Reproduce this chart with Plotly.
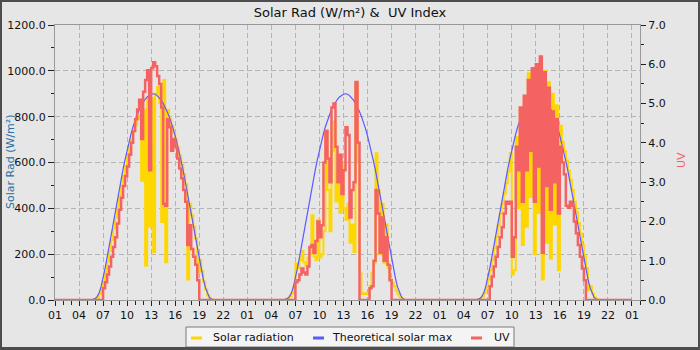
import pandas as pd
import plotly.graph_objects as go

# ---------------- data ----------------
DAYS = ["2024-06-10", "2024-06-11", "2024-06-12"]
START = "2024-06-10 01:00"
DATA_END = "2024-06-13 01:00"
AXIS_END = "2024-06-13 02:00"
FIRST_SAMPLE_H = 5.5      # first daily sample at 05:30
STEP_MIN = 15             # samples every 15 min, 05:30 .. 20:45

theo_day = [0, 2, 6, 15, 30, 58, 95, 138, 185, 235, 285, 335, 385, 433, 480, 527,
            572, 614, 655, 692, 726, 757, 785, 810, 831, 849, 864, 876, 886, 893, 898, 900,
            898, 892, 884, 872, 858, 841, 822, 800, 776, 748, 716, 682, 645, 605, 563, 519,
            473, 426, 378, 329, 280, 230, 182, 135, 92, 56, 30, 12, 4, 0]

solar_d1 = [0, 0, 3, 10, 25, 50, 82, 122, 168, 215, 262, 312, 360, 408, 455, 500,
            545, 588, 628, 668, 700, 735, 762, 790, 805, 520, 830, 150, 880, 320, 880, 210,
            900, 930, 860, 340, 960, 165, 830, 790, 760, 730, 700, 665, 630, 590, 550, 505,
            90, 420, 370, 320, 270, 120, 175, 125, 80, 45, 20, 8, 2, 0]
solar_d2 = [0, 3, 8, 15, 30, 55, 160, 140, 175, 215, 165, 150, 185, 200, 370, 190,
            175, 350, 185, 200, 300, 740, 480, 300, 650, 780, 430, 560, 380, 600, 400, 350,
            420, 250, 330, 210, 945, 600, 116, 26, 30, 25, 30, 60, 120, 160, 640, 480,
            200, 420, 160, 330, 140, 90, 75, 60, 40, 25, 12, 5, 0, 0]
solar_d3 = [0, 2, 6, 14, 30, 55, 90, 130, 175, 225, 275, 325, 375, 420, 465, 510,
            560, 640, 110, 130, 712, 400, 830, 240, 880, 320, 990, 450, 1000, 200, 1010, 380,
            980, 90, 1000, 250, 950, 180, 900, 330, 850, 130, 760, 690, 650, 610, 565, 525,
            480, 430, 385, 335, 290, 240, 190, 140, 44, 60, 30, 12, 3, 0]

uv_d1 = [0, 0, 0, 0, 0, 0, 0.3, 0.45, 0.65, 0.85, 1.1, 1.35, 1.6, 1.95, 2.3, 2.6,
         2.9, 3.15, 3.4, 3.7, 4.0, 4.3, 4.6, 4.85, 5.1, 4.1, 5.3, 5.6, 5.85, 3.3, 5.9, 6.05,
         5.95, 5.7, 5.5, 4.9, 2.45, 2.4, 4.6, 4.4, 3.8, 4.1, 3.9, 3.6, 3.35, 3.1, 2.8, 2.5,
         1.4, 1.9, 1.3, 1.1, 0.9, 0.5, 0, 0, 0, 0, 0, 0, 0, 0]
uv_d2 = [0, 0, 0, 0, 0, 0, 0.45, 0.5, 0.65, 0.8, 0.7, 0.65, 0.85, 1.35, 1.4, 1.2,
         1.5, 2.0, 1.6, 1.9, 3.5, 4.3, 3.6, 3.0, 4.9, 5.0, 3.9, 3.0, 3.7, 2.7, 3.3, 4.4,
         4.2, 2.1, 2.8, 3.0, 5.55, 4.0, 0, 0, 0, 0, 0, 0.3, 0.35, 1.0, 2.8, 2.2,
         1.2, 2.1, 1.0, 1.6, 0.9, 0.5, 0, 0, 0, 0, 0, 0, 0, 0]
uv_d3 = [0, 0, 0, 0, 0, 0, 0, 0.35, 0.6, 0.85, 1.1, 1.35, 1.6, 1.85, 2.2, 2.5,
         2.45, 2.5, 1.1, 1.6, 3.9, 3.3, 4.9, 2.5, 5.2, 3.3, 5.6, 3.8, 5.9, 2.5, 6.0, 3.4,
         6.2, 1.2, 5.8, 2.9, 5.4, 2.3, 4.8, 3.0, 4.6, 2.2, 3.9, 3.5, 3.2, 2.4, 2.35, 2.5,
         2.4, 2.0, 1.7, 1.4, 1.1, 0.8, 0.5, 0, 0, 0, 0, 0, 0, 0]

# ---------------- build series ----------------
def day_times(day, n):
    t0 = pd.Timestamp(day) + pd.Timedelta(hours=FIRST_SAMPLE_H)
    return [t0 + pd.Timedelta(minutes=STEP_MIN * i) for i in range(n)]

# UV: continuous through the nights (zero line visible)
x_uv = [pd.Timestamp(START)]
for d in DAYS:
    x_uv += day_times(d, len(theo_day))
x_uv += [pd.Timestamp(DATA_END)]
uv_all = [0] + uv_d1 + uv_d2 + uv_d3 + [0]

# Solar / theoretical: daylight segments only
x_day, solar_all, theo_all = [], [], []
for d, s in zip(DAYS, [solar_d1, solar_d2, solar_d3]):
    x_day += day_times(d, len(s)) + [None]
    solar_all += s + [None]
    theo_all += theo_day + [None]

YELLOW = "#ffd700"
BLUE = "#5a5aff"
RED = "#f46262"
BG = "#e6e6e6"
GRID = "#b4b4b4"
AX = "#999999"
FONT = "DejaVu Sans"

fig = go.Figure()
fig.add_trace(go.Scatter(x=x_uv, y=uv_all, mode="lines", line=dict(color=RED, width=2.5, shape="hv"),
                         name="UV", yaxis="y2"))
fig.add_trace(go.Scatter(x=x_day, y=solar_all, mode="lines", line=dict(color=YELLOW, width=2, shape="hv"),
                         name="Solar radiation", connectgaps=False))
fig.add_trace(go.Scatter(x=x_day, y=theo_all, mode="lines", line=dict(color=BLUE, width=1.2),
                         name="Theoretical solar max", connectgaps=False))

W, H = 700, 350
L, R, T, B = 55, 60, 25, 50
PW, PH = W - L - R, H - T - B

def px(x):
    return (x - L) / PW

def py(y):
    return (H - B - y) / PH

shapes = []
annotations = []

# legend box (manual)
shapes.append(dict(type="rect", xref="paper", yref="paper", x0=px(186), x1=px(514), y0=py(347), y1=py(327),
                   fillcolor="#f4f4f4", line=dict(color="#7a7a7a", width=1), layer="above"))
legend_items = [("Solar radiation", YELLOW, 191, 211), ("Theoretical solar max", BLUE, 313, 330), ("UV", RED, 471, 492)]
for label, col, mx, tx in legend_items:
    shapes.append(dict(type="line", xref="paper", yref="paper", x0=px(mx), x1=px(mx + 11), y0=py(338), y1=py(338),
                       line=dict(color=col, width=3), layer="above"))
    annotations.append(dict(text=label, xref="paper", yref="paper", x=px(tx), y=py(337.5), xanchor="left",
                            yanchor="middle", showarrow=False, font=dict(family=FONT, size=11, color="#111111")))

# outer dark border
BORDER = "#4d4d4d"
for (x0, x1, y0, y1) in [(0, 2, 0, H), (W - 2, W, 0, H), (0, W, 0, 2), (0, W, H - 3, H)]:
    shapes.append(dict(type="rect", xref="paper", yref="paper", x0=px(x0), x1=px(x1), y0=py(y1), y1=py(y0),
                       fillcolor=BORDER, line=dict(width=0), layer="above"))

# axis titles
annotations.append(dict(text="Solar Rad (W/m²)", xref="paper", yref="paper", x=px(10), y=py(162),
                        textangle=-90, showarrow=False, xanchor="center", yanchor="middle",
                        font=dict(family=FONT, size=11, color="#2a6fa4")))
annotations.append(dict(text="UV", xref="paper", yref="paper", x=px(681), y=py(160),
                        textangle=-90, showarrow=False, xanchor="center", yanchor="middle",
                        font=dict(family=FONT, size=11, color=RED)))

fig.update_layout(
    width=W, height=H,
    margin=dict(l=L, r=R, t=T, b=B, pad=0, autoexpand=False),
    paper_bgcolor=BG, plot_bgcolor=BG,
    showlegend=False,
    font=dict(family=FONT, size=11, color="#111111"),
    title=dict(text="Solar Rad (W/m²) &  UV Index", x=0.5, xref="container", xanchor="center",
               y=1 - 12 / H, yref="container", yanchor="middle",
               font=dict(family=FONT, size=13, color="#111111")),
    xaxis=dict(type="date", range=[START, AXIS_END], tick0=START, dtick=3 * 3600000, tickformat="%H",
               ticks="outside", ticklen=5, tickcolor="#222222", showline=True, linecolor=AX, linewidth=1,
               mirror=True, showgrid=True, gridcolor=GRID, griddash="5px,3px", gridwidth=1, zeroline=False,
               automargin=False, tickfont=dict(family=FONT, size=11, color="#111111"),
               minor=dict(dtick=3600000, tick0=START, ticks="outside", ticklen=4, tickcolor="#222222", showgrid=False)),
    yaxis=dict(range=[0, 1200], dtick=200, tickformat=".1f", ticks="outside", ticklen=6, tickcolor="#222222",
               showline=True, linecolor=AX, linewidth=1, showgrid=True, gridcolor=GRID, griddash="5px,3px",
               zeroline=False, automargin=False, tickfont=dict(family=FONT, size=11, color="#111111"),
               minor=dict(dtick=100, ticks="outside", ticklen=3, tickcolor="#222222", showgrid=False)),
    yaxis2=dict(range=[0, 7], dtick=1, tickformat=".1f", overlaying="y", side="right", ticks="outside",
                ticklen=5, tickcolor="#222222", showline=True, linecolor=AX, linewidth=1, showgrid=False,
                zeroline=False, automargin=False, tickfont=dict(family=FONT, size=11, color="#111111"),
                minor=dict(dtick=0.5, ticks="outside", ticklen=3, tickcolor="#222222", showgrid=False)),
    shapes=shapes,
    annotations=annotations,
)

fig.write_html("out.html")
